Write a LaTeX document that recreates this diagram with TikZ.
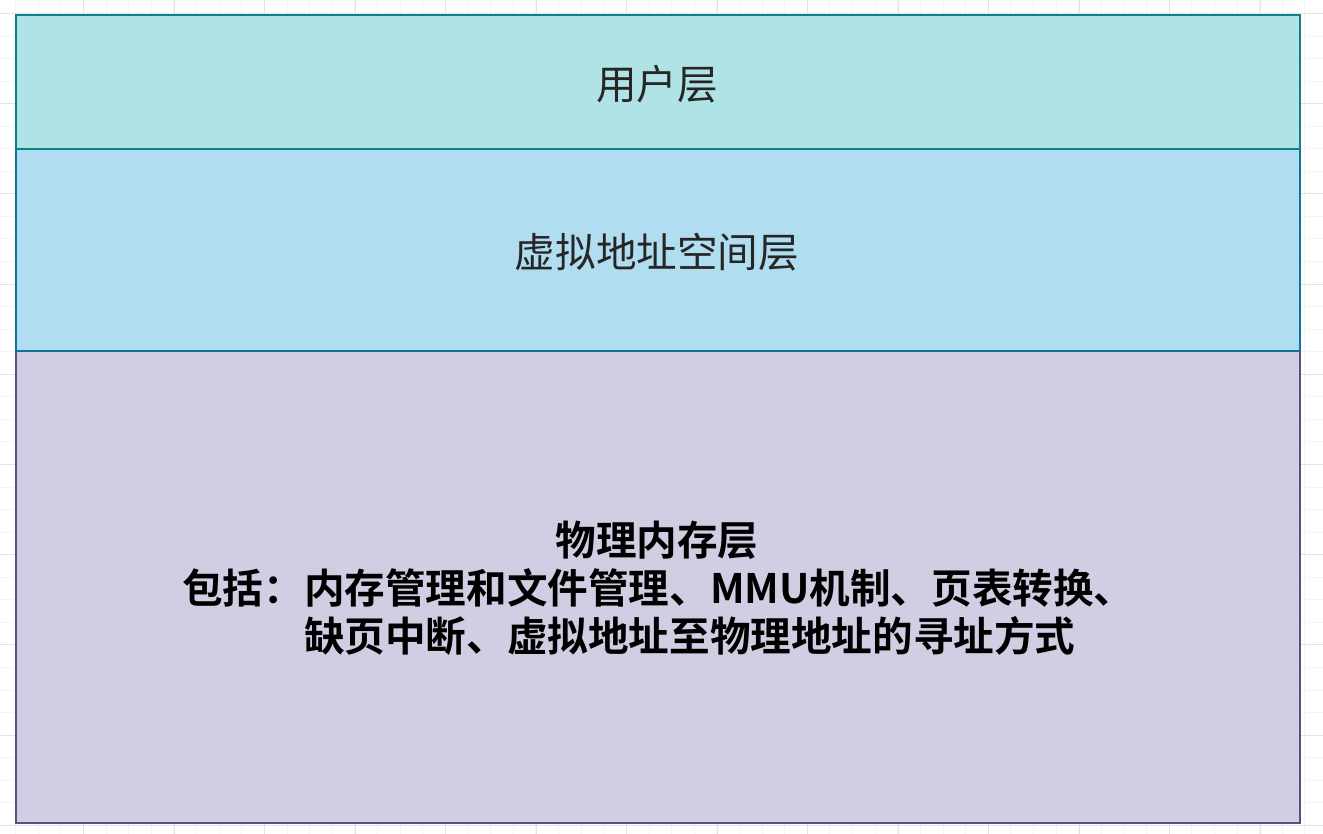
\documentclass[tikz,border=0pt]{standalone}
\usepackage{fontspec}
\newfontfamily\cjk{Noto Sans CJK SC}[BoldFont={Noto Sans CJK SC Bold}]
\definecolor{userfill}{HTML}{B0E3E6}
\definecolor{userline}{HTML}{0E8088}
\definecolor{vafill}{HTML}{B1DDF0}
\definecolor{valine}{HTML}{10739E}
\definecolor{pmfill}{HTML}{D0CEE2}
\definecolor{pmline}{HTML}{56517E}
\definecolor{gridminor}{HTML}{F4F4F4}
\definecolor{gridmajor}{HTML}{E2E2E2}
\begin{document}
\begin{tikzpicture}[x=1pt,y=-1pt,
  layer/.style={line width=1.6pt},
  lbl/.style={font=\cjk\fontsize{40.6}{48}\selectfont, inner sep=0pt, text=black!85},
  boldlbl/.style={font=\cjk\bfseries\fontsize{40.6}{48}\selectfont, inner sep=0pt, text=black}]
\useasboundingbox (0,0) rectangle (1323,834);
\fill[white] (0,0) rectangle (1323,834);
% grid
\foreach \i in {-3,...,58} {
  \draw[gridminor, line width=1pt] ({83.5+22.62*\i},0) -- ({83.5+22.62*\i},834);
}
\foreach \i in {-3,...,37} {
  \draw[gridminor, line width=1pt] (0,{13.5+22.55*\i}) -- (1323,{13.5+22.55*\i});
}
\foreach \i in {0,...,14} {
  \draw[gridmajor, line width=1pt] ({83.5+90.5*\i},0) -- ({83.5+90.5*\i},834);
}
\foreach \i in {0,...,9} {
  \draw[gridmajor, line width=1pt] (0,{13.5+90.2*\i}) -- (1323,{13.5+90.2*\i});
}
% layers
\draw[layer, fill=pmfill, draw=pmline] (16,351) rectangle (1300,823);
\draw[layer, fill=vafill, draw=valine] (16,149) rectangle (1300,351);
\draw[layer, fill=userfill, draw=userline] (16,15) rectangle (1300,149);
\node[lbl] (user) at (657,84) {用户层};
\node[lbl] (va) at (657,252) {虚拟地址空间层};
\node[boldlbl] (pm) at (657,540) {物理内存层};
\node[boldlbl, align=left, anchor=west] (pmdesc) at (182,612)
  {包括：内存管理和文件管理、MMU机制、页表转换、\\
   \hphantom{包括：}缺页中断、虚拟地址至物理地址的寻址方式};
\end{tikzpicture}
\end{document}
